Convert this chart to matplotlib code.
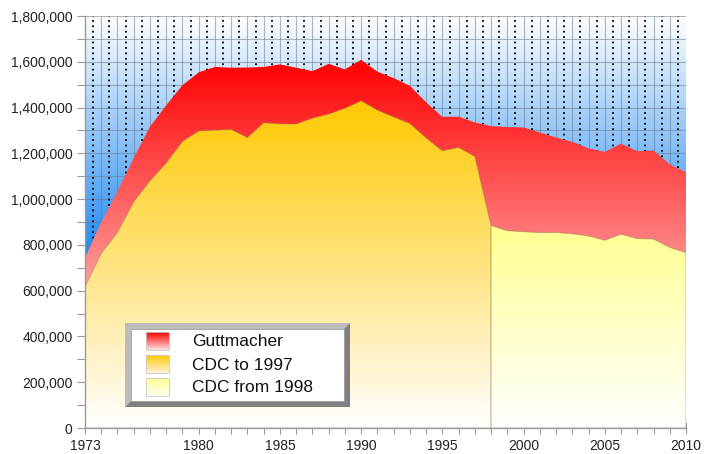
import matplotlib
matplotlib.use("Agg")

import matplotlib.pyplot as plt
import numpy as np
from matplotlib.colors import to_rgb
from matplotlib.patches import Rectangle, Polygon
from matplotlib.ticker import FuncFormatter, FixedLocator, MultipleLocator

# --- dados ---
years = np.arange(1973, 2011)
guttmacher = [744600, 898600, 1034200, 1179300, 1316700, 1409600, 1497700,
              1553900, 1577300, 1573900, 1575000, 1577200, 1588600, 1574000,
              1559100, 1590800, 1566900, 1608600, 1556500, 1528900, 1495000,
              1423000, 1359400, 1360200, 1335000, 1319000, 1314800, 1313000,
              1291000, 1269000, 1250000, 1222100, 1206200, 1242200, 1209600,
              1212400, 1151600, 1118000]

cdc_old_years = np.arange(1973, 1999)
cdc_to_1997 = [615800, 763500, 854900, 988300, 1079400, 1157800, 1251900,
               1297600, 1300800, 1304000, 1269000, 1333500, 1328600, 1328100,
               1353700, 1371300, 1396700, 1429200, 1388900, 1359100, 1330400,
               1267400, 1210900, 1225900, 1186000, 884300]

cdc_new_years = np.arange(1998, 2011)
cdc_from_1998 = [884300, 861800, 857500, 853500, 854100, 848200, 839200,
                 820200, 846200, 827600, 825600, 789200, 765700]

labels = ["Guttmacher", "CDC to 1997", "CDC from 1998"]
xtick_years = [1973, 1980, 1985, 1990, 1995, 2000, 2005, 2010]

# --- estilo ---
plt.rcParams.update({
    "font.family": ["Liberation Sans", "DejaVu Sans"],
    "font.size": 10,
})

W, H = 704, 454
YMAX = 1800000
BLUE = "#1e88f0"
GRID = "#6a7a8a"
AXIS = "#9a9a9a"


def grad_array(top, bottom, n=256):
    """Coluna RGB: linha 0 = cor do topo."""
    t = np.linspace(0, 1, n)[:, None]
    a = np.array(to_rgb(top))[None, :]
    b = np.array(to_rgb(bottom))[None, :]
    return (a * (1 - t) + b * t)[:, None, :]


def area_gradiente(ax, x, y, top, bottom, vtop, z, edge="none"):
    poly = ax.fill_between(x, 0, y, facecolor="none", edgecolor=edge,
                           linewidth=0.7, zorder=z + 0.1)
    path = poly.get_paths()[0]
    im = ax.imshow(grad_array(top, bottom), origin="upper", aspect="auto",
                   extent=[x[0], x[-1], 0, vtop], zorder=z,
                   interpolation="bilinear")
    im.set_clip_path(path, transform=ax.transData)


fig = plt.figure(figsize=(W / 100, H / 100), dpi=100, facecolor="white")
ax = fig.add_axes([85 / W, (H - 428) / H, 601 / W, 412 / H])

# fundo degradê branco -> azul
v = np.linspace(YMAX, 0, 300)
f = np.clip((YMAX - v) / 1050000, 0, 1)
bg = np.ones((300, 1, 3)) * (1 - f)[:, None, None] + \
    np.array(to_rgb(BLUE))[None, None, :] * f[:, None, None]
ax.imshow(bg, origin="upper", aspect="auto", extent=[1973, 2010, 0, YMAX],
          zorder=0, interpolation="bilinear")

# grade
for yv in np.arange(100000, YMAX + 1, 100000):
    ax.axhline(yv, color=GRID, lw=0.8, alpha=0.55, zorder=1)
ax.vlines(years[1:-1], 0, YMAX, colors=GRID, lw=0.8, alpha=0.55, zorder=1)
ax.vlines(years[:-1] + 0.5, 0, YMAX, colors="black", lw=1.3,
          linestyles=(0, (1, 2.0)), zorder=1)

# áreas
area_gradiente(ax, years, guttmacher, "#ff0000", "#ffffff", 1610000, 2)
area_gradiente(ax, cdc_old_years, cdc_to_1997, "#ffc800", "#ffffff", 1430000, 3,
               edge=(0.55, 0.5, 0.35, 0.5))
area_gradiente(ax, cdc_new_years, cdc_from_1998, "#ffff90", "#ffffff", 884300, 4,
               edge=(0.55, 0.5, 0.35, 0.5))

ax.set_xlim(1973, 2010)
ax.set_ylim(0, YMAX)

# eixos
for s in ["top", "right"]:
    ax.spines[s].set_visible(False)
for s in ["left", "bottom"]:
    ax.spines[s].set_color(AXIS)
    ax.spines[s].set_linewidth(1)
    ax.spines[s].set_zorder(6)

ax.yaxis.set_major_locator(MultipleLocator(200000))
ax.yaxis.set_minor_locator(MultipleLocator(100000))
ax.yaxis.set_major_formatter(FuncFormatter(lambda val, p: f"{int(val):,}"))
ax.tick_params(axis="y", which="both", direction="out", length=6, width=0.8,
               color=AXIS, pad=3, labelsize=10, labelcolor="#222222")

ax.xaxis.set_major_locator(FixedLocator(xtick_years))
ax.xaxis.set_minor_locator(FixedLocator(years))
ax.tick_params(axis="x", which="both", direction="inout", length=8, width=0.8,
               color=AXIS, pad=4, labelsize=10, labelcolor="#222222")

# legenda (caixa com borda em relevo)
lg = fig.add_axes([125 / W, (H - 407) / H, 225 / W, 84 / H])
lg.set_xlim(0, 225)
lg.set_ylim(84, 0)
lg.axis("off")
b = 6
lg.add_patch(Polygon([(0, 0), (225, 0), (225 - b, b), (b, b), (b, 84 - b), (0, 84)],
                     closed=True, facecolor="#bcbcbc", edgecolor="none", zorder=1))
lg.add_patch(Polygon([(225, 0), (225, 84), (0, 84), (b, 84 - b), (225 - b, 84 - b), (225 - b, b)],
                     closed=True, facecolor="#808080", edgecolor="none", zorder=1))
lg.add_patch(Rectangle((b, b), 225 - 2 * b, 84 - 2 * b, facecolor="white",
                       edgecolor="#9a9a9a", lw=0.6, zorder=1))

cores_leg = [("#ff0000", "#ffe0e0"), ("#ffc800", "#fff2d8"), ("#ffff90", "#fffff2")]
for i, (lab, (c1, c2)) in enumerate(zip(labels, cores_leg)):
    y0 = 9 + i * 23
    lg.imshow(grad_array(c1, c2), origin="upper", aspect="auto",
              extent=[21, 44, y0 + 18, y0], interpolation="bilinear", zorder=3)
    lg.add_patch(Rectangle((21, y0), 23, 18, facecolor="none",
                           edgecolor="#c8c8c8", lw=0.6, zorder=4))
    lg.text(67, y0 + 10, lab, fontsize=12.5, va="center", ha="left",
            color="#111111", zorder=5)
lg.set_xlim(0, 225)
lg.set_ylim(84, 0)

fig.savefig("out.png", dpi=100, facecolor="white")
